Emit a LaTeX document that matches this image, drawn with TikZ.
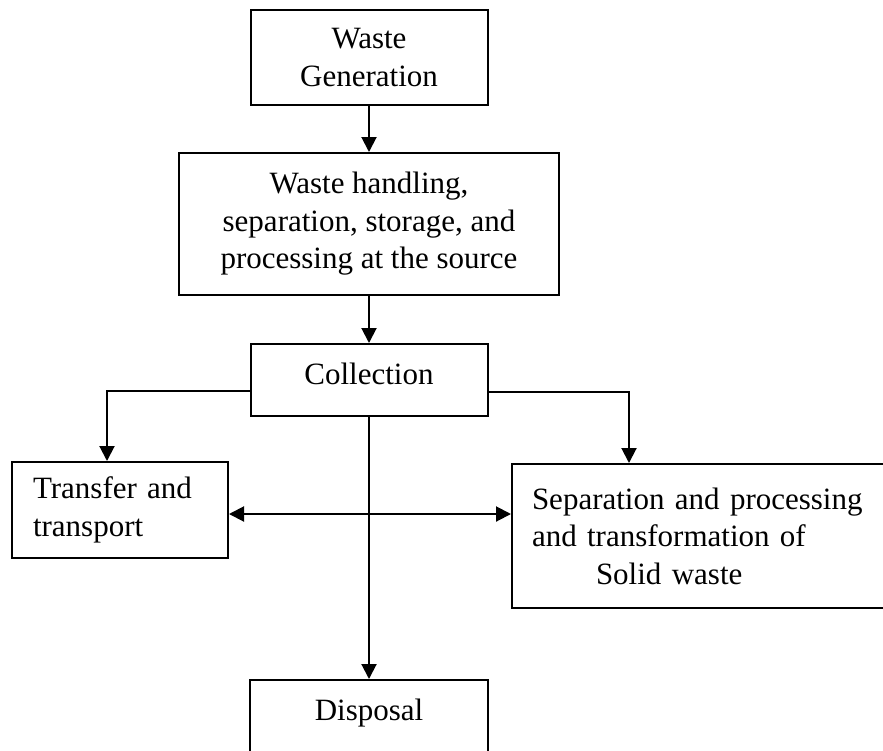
\documentclass[tikz,border=0pt]{standalone}
\usepackage{fontspec}
\setmainfont{Liberation Serif}
\usetikzlibrary{arrows.meta}
\begin{document}
\begin{tikzpicture}
[x=1pt,y=-1pt,
  boxdecorate/.style={shape=rectangle,draw,line width=2pt,inner sep=0pt,
    font=\fontsize{31}{37.5}\selectfont},%
  arrowdecorate/.style={-{Triangle[length=15pt,width=15pt]},line width=2pt}]
\useasboundingbox (0,0) rectangle (883,750);
\clip (0,0) rectangle (883,750);
% boxes
\node (gen) at (369,57.5) [boxdecorate,minimum width=237pt,minimum height=95pt,
  align=center] {Waste\\Generation};
\node (hand) at (369,224) [boxdecorate,minimum width=380pt,minimum height=142pt,
  align=center] {Waste handling,\\separation, storage, and\\processing at the source};
\node (coll) at (369,380) [boxdecorate,minimum width=237pt,minimum height=72pt,
  text depth=12pt] {Collection};
\node (trans) at (120,510) [boxdecorate,minimum width=216pt,minimum height=96pt,
  align=left,text width=174pt] {Transfer and\\transport};
\node (sep) at (712,536) [boxdecorate,minimum width=400pt,minimum height=144pt,
  align=left,text width=360pt]
  {Separation and processing\\and transformation of\\\hspace*{64pt}Solid waste};
\node (disp) at (369,740) [boxdecorate,minimum width=238pt,minimum height=120pt,
  text height=22pt,text depth=62pt] {Disposal};
% connectors
\draw[arrowdecorate] (gen) -- (hand);
\draw[arrowdecorate] (hand) -- (coll);
\draw[arrowdecorate] ([yshift=-11pt]coll.west) -| ([xshift=-13pt]trans.north);
\draw[arrowdecorate] ([yshift=-12pt]coll.east) -| ([xshift=118pt]sep.north west);
\draw[arrowdecorate] (coll) -- (disp);
\draw[{Triangle[length=15pt,width=15pt]}-{Triangle[length=15pt,width=15pt]},
  line width=2pt] ([yshift=-4pt]trans.east) -- ([yshift=-4pt]trans.east -| sep.west);
\end{tikzpicture}
\end{document}
